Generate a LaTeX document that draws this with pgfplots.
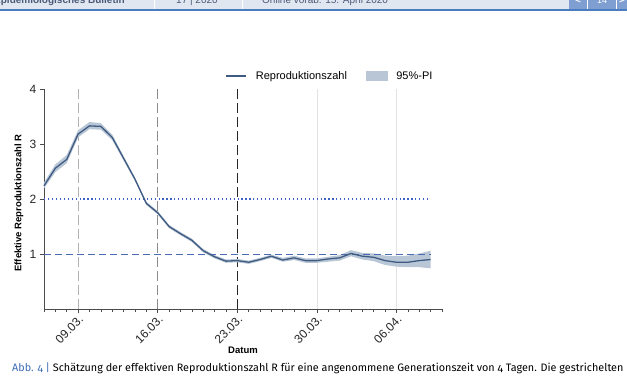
\documentclass[border=0pt]{standalone}
\usepackage{pgfplots}
\pgfplotsset{compat=1.18}
\usepackage{pgfplotstable}
\usepackage{fontspec}
\setmainfont{Liberation Sans}
\newfontfamily\capfont[Numbers=OldStyle]{Fira Sans}
\definecolor{rline}{HTML}{3F5B82}
\definecolor{rband}{HTML}{B9C6D5}
\definecolor{refblue}{HTML}{4A6CB4}
\definecolor{dotblue}{HTML}{3F63C2}
\definecolor{hdrbg}{HTML}{E1E7F1}
\definecolor{hdrblue}{HTML}{4A7CC0}
\definecolor{navblue}{HTML}{7F9ED2}
\definecolor{capblue}{HTML}{3D6DB5}
\definecolor{hdrtext}{HTML}{4A5A78}

\pgfplotstableread{
d r
0 2.24
1 2.56
2 2.72
3 3.18
4 3.33
5 3.32
6 3.12
7 2.74
8 2.36
9 1.92
10 1.75
11 1.50
12 1.37
13 1.25
14 1.06
15 0.95
16 0.87
17 0.88
18 0.85
19 0.90
20 0.96
21 0.89
22 0.93
23 0.88
24 0.88
25 0.91
26 0.93
27 1.01
28 0.96
29 0.94
30 0.88
31 0.85
32 0.85
33 0.88
34 0.90
}\rdata

% 95%-PI band: upper bound forward, lower bound backward
\pgfplotstableread{
d v
0 2.30
1 2.63
2 2.80
3 3.25
4 3.40
5 3.38
6 3.17
7 2.78
8 2.39
9 1.95
10 1.78
11 1.53
12 1.40
13 1.28
14 1.09
15 0.98
16 0.90
17 0.91
18 0.88
19 0.93
20 0.99
21 0.93
22 0.97
23 0.92
24 0.92
25 0.95
26 0.98
27 1.07
28 1.02
29 1.01
30 0.97
31 0.96
32 0.97
33 1.01
34 1.06
34 0.74
33 0.76
32 0.76
31 0.77
30 0.80
29 0.87
28 0.90
27 0.96
26 0.88
25 0.86
24 0.84
23 0.84
22 0.89
21 0.86
20 0.93
19 0.87
18 0.82
17 0.85
16 0.84
15 0.92
14 1.03
13 1.22
12 1.34
11 1.47
10 1.72
9 1.89
8 2.33
7 2.70
6 3.07
5 3.26
4 3.27
3 3.12
2 2.65
1 2.49
0 2.19
}\banddata

\begin{document}
\begin{tikzpicture}
\useasboundingbox (0pt,0pt) rectangle (627pt,376pt);
\begin{scope}[x=1pt,y=1pt]
% header band
\fill[hdrbg] (0,367) rectangle (627,376);
\fill[navblue] (569,367) rectangle (627,376);
\draw[white, line width=0.8pt] (154,367) -- (154,376);
\draw[white, line width=0.8pt] (242,367) -- (242,376);
\draw[white, line width=0.8pt] (587,367) -- (587,376);
\draw[white, line width=0.8pt] (616,367) -- (616,376);
\begin{scope}
\clip (0,367) rectangle (627,376);
\node[anchor=base west, inner sep=0, text=hdrtext, font=\bfseries\fontsize{10}{12}\selectfont] at (-6,372.5) {Epidemiologisches Bulletin};
\node[anchor=base west, inner sep=0, text=hdrtext, font=\fontsize{10}{12}\selectfont] at (176,372.5) {17 | 2020};
\node[anchor=base west, inner sep=0, text=hdrtext, font=\fontsize{10}{12}\selectfont] at (262,372.5) {Online vorab: 15. April 2020};
\node[anchor=base, inner sep=0, text=white, font=\bfseries\fontsize{10}{12}\selectfont] at (578,372.5) {<};
\node[anchor=base, inner sep=0, text=white, font=\fontsize{9}{11}\selectfont] at (602,372.5) {14};
\node[anchor=base, inner sep=0, text=white, font=\bfseries\fontsize{10}{12}\selectfont] at (622,372.5) {>};
\end{scope}
\fill[hdrblue] (0,365) rectangle (627,367.2);
% caption
\node[anchor=base west, inner sep=0, font=\capfont\fontsize{10.8}{12}\selectfont] at (12,5) {\textcolor{capblue}{Abb. 4 |} Schätzung der effektiven Reproduktionszahl R für eine angenommene Generationszeit von 4 Tagen. Die gestrichelten};
\end{scope}

\begin{axis}[
  at={(44pt,67pt)}, anchor=south west,
  scale only axis, width=398pt, height=220pt,
  xmin=0, xmax=35, ymin=0, ymax=4,
  axis lines=left,
  axis line style={-, draw=black!70, line width=0.7pt},
  clip=false,
  xtick={3,10,17,24,31},
  xticklabels={09.03.,16.03.,23.03.,30.03.,06.04.},
  minor xtick={0,...,35},
  ytick={1,2,3,4},
  tick align=outside,
  major tick length=4pt,
  minor tick length=2.5pt,
  tick style={draw=black!70, line width=0.6pt},
  /pgf/number format/assume math mode=true,
  tick label style={font=\fontsize{12}{14}\selectfont, text=black!85},
  xticklabel style={rotate=45, anchor=north east, inner sep=1pt},
  yticklabel style={inner sep=3.5pt},
  xlabel={Datum},
  ylabel={Effektive Reproduktionszahl R},
  xlabel style={at={(axis description cs:0.5,-0.186)}, anchor=center, font=\bfseries\fontsize{9.5}{11}\selectfont},
  ylabel style={at={(axis description cs:-0.0628,0.482)}, anchor=center, font=\bfseries\fontsize{9.5}{11}\selectfont},
  legend columns=2,
  legend style={draw=none, fill=none, at={(axis description cs:0.7186,1.059)}, anchor=center,
    font=\fontsize{11}{13}\selectfont,
    /tikz/every odd column/.append style={column sep=7pt},
    /tikz/every even column/.append style={column sep=17pt}},
  legend cell align=left,
]
% vertical reference lines
\addplot[forget plot, draw=black!11, line width=0.8pt] coordinates {(24,0) (24,4)};
\addplot[forget plot, draw=black!11, line width=0.8pt] coordinates {(31,0) (31,4)};
\addplot[forget plot, draw=black!30, line width=1pt, dash pattern=on 10pt off 4pt] coordinates {(3,0) (3,4)};
\addplot[forget plot, draw=black!45, line width=1.4pt, dash pattern=on 10pt off 4pt] coordinates {(10,0) (10,4)};
\addplot[forget plot, draw=black!85, line width=1.1pt, dash pattern=on 10pt off 4pt] coordinates {(17,0) (17,4)};
% band
\addplot[forget plot, fill=rband, draw=none] table[x=d, y=v] {\banddata} -- cycle;
% horizontal reference lines
\addplot[forget plot, draw=dotblue, line width=1.15pt, dash pattern=on 1.15pt off 2.8pt] coordinates {(0,2) (34,2)};
\addplot[forget plot, draw=refblue, line width=1pt, dash pattern=on 7pt off 4pt] coordinates {(0,1) (34,1)};
% main line
\addplot[forget plot, draw=rline, line width=1.3pt, line join=round] table[x=d, y=r] {\rdata};
% legend
\addlegendimage{legend image code/.code={\draw[rline, line width=1.3pt] (0pt,0pt) -- (20pt,0pt);}}
\addlegendentry{Reproduktionszahl}
\addlegendimage{legend image code/.code={\fill[rband] (0pt,-4.5pt) rectangle (21pt,4.5pt);}}
\addlegendentry{95\%-PI}
\end{axis}
\end{tikzpicture}
\end{document}
